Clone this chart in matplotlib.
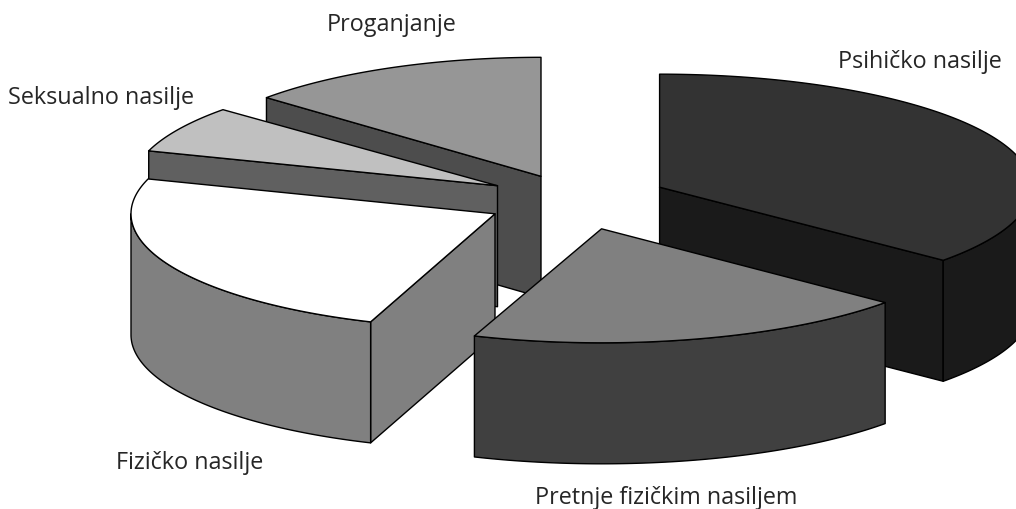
import numpy as np
from matplotlib import pyplot as plt
from matplotlib.patches import Polygon

# slices clockwise from the top
labels = ['Psihičko nasilje', 'Pretnje fizičkim nasiljem', 'Fizičko nasilje',
          'Seksualno nasilje', 'Proganjanje']
shares = [36.2, 19.35, 24.35, 6.6, 13.5]
explode = [0.243, 0.248, 0.25, 0.25, 0.243]

top_colors = ['#333333', '#808080', '#ffffff', '#c0c0c0', '#969696']
wall_colors = ['#1a1a1a', '#404040', '#808080', '#606060', '#4d4d4d']

# label anchor positions in pixels
label_x = [920, 666, 190, 101, 392]
label_y = [62, 498, 463, 98, 25]

# fake 3d pie: flat ellipse extruded downwards
cx, cy = 578, 200
rx, ry = 370, 116
depth = 121
edge = 1.0

# the original has a bit of perspective, so each slice gets its own radii
slice_rx = [372, 372, 364, 366, 366]
slice_ry = [113, 114, 115, 115, 119]
shift_y = [0, 2, 2, 1, 3]


def rim(t, a=rx, b=ry):
    # t in degrees, clockwise from top, y grows down
    r = np.radians(t)
    return np.column_stack([a * np.sin(r), -b * np.cos(r)])


def draw_poly(ax, pts, color, z):
    ax.add_patch(Polygon(pts, closed=True, facecolor=color, edgecolor='black',
                         linewidth=edge, joinstyle='round', zorder=z))


def cut_face(ax, apex, t, a, b, color, z):
    end = apex + rim(t, a, b)[0]
    down = np.array([0, depth])
    draw_poly(ax, [apex, end, end + down, apex + down], color, z)


def draw_slice(ax, i, t0, t1, z):
    a, b = slice_rx[i], slice_ry[i]
    mid = (t0 + t1) / 2
    apex = np.array([cx, cy + shift_y[i]]) + explode[i] * rim(mid)[0]
    # side faces only show when the top lies above the edge
    if t0 > 180:
        cut_face(ax, apex, t0, a, b, wall_colors[i], z)
    if t1 < 180:
        cut_face(ax, apex, t1, a, b, wall_colors[i], z)
    # outer wall, front half of the ellipse only
    lo, hi = max(t0, 90), min(t1, 270)
    if hi > lo:
        arc = apex + rim(np.linspace(lo, hi, 120), a, b)
        draw_poly(ax, np.vstack([arc, arc[::-1] + [0, depth]]), wall_colors[i], z + 0.1)
    arc = apex + rim(np.linspace(t0, t1, 200), a, b)
    draw_poly(ax, np.vstack([apex, arc]), top_colors[i], z + 0.2)


fig = plt.figure(figsize=(10.16, 5.10), dpi=100)
ax = fig.add_axes([0, 0, 1, 1])
ax.set_xlim(0, 1016)
ax.set_ylim(510, 0)
ax.axis('off')

ends = np.cumsum(shares) / np.sum(shares) * 360
starts = np.concatenate([[0], ends[:-1]])
order = [4, 3, 2, 0, 1]  # back to front
for z, i in enumerate(order):
    draw_slice(ax, i, starts[i], ends[i], z + 1)

for i in range(len(labels)):
    ax.text(label_x[i], label_y[i], labels[i], ha='center', va='center',
            fontsize=16.8, family='Open Sans', color='#262626', zorder=10)

plt.savefig('out.png', dpi=100)
